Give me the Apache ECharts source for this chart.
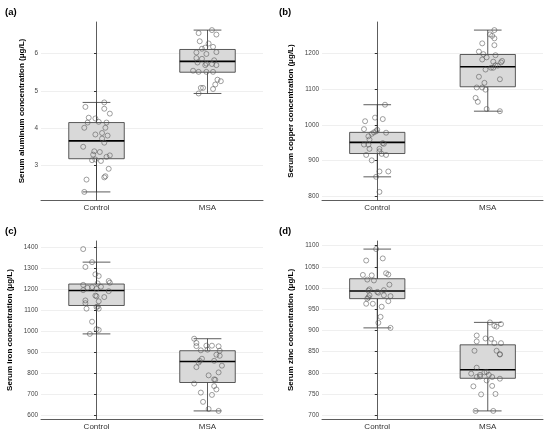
<!DOCTYPE html>
<html>
<head>
<meta charset="utf-8">
<script src="https://cdn.jsdelivr.net/npm/echarts@6/dist/echarts.min.js"></script>
<style>
  html, body { margin: 0; padding: 0; background: #fff; }
  #main { width: 550px; height: 437px; }
</style>
</head>
<body>
<div id="main"></div>
<script>
// groups on the x axis
const groups = ['Control', 'MSA'];

// box stats per group: [min, Q1, median, Q3, max]
const boxA = [[2.29, 3.18, 3.66, 4.15, 4.69], [4.93, 5.50, 5.79, 6.11, 6.63]];
const boxB = [[855, 920, 951, 979, 1056], [1038, 1106, 1162, 1196, 1264]];
const boxC = [[987, 1122, 1193, 1224, 1328], [621, 756, 856, 907, 964]];
const boxD = [[906, 975, 993, 1022, 1092], [710, 787, 807, 866, 919]];

// individual samples (value) and their horizontal jitter (in category units)
const alCtrl = [4.69, 4.57, 4.52, 4.39, 4.28, 4.26, 4.15, 4.17, 4.15, 4.01, 4.01, 3.83, 3.87, 3.80, 3.72, 3.61, 3.50, 3.38, 3.36, 3.29, 3.23, 3.27, 3.14, 3.16, 3.12, 2.91, 2.71, 2.68, 2.62, 2.29];
const alCtrlJit = [0.07, -0.10, 0.07, 0.12, -0.07, -0.01, -0.08, 0.02, 0.09, -0.11, 0.08, -0.01, 0.05, 0.10, 0.05, 0.07, -0.12, -0.02, 0.03, -0.03, 0.09, 0.12, -0.04, -0.01, 0.04, 0.11, 0.08, 0.07, -0.09, -0.11];
const alMsa = [6.63, 6.55, 6.51, 6.33, 6.27, 6.18, 6.13, 6.16, 6.04, 6.03, 5.99, 5.88, 5.86, 5.82, 5.76, 5.69, 5.73, 5.72, 5.69, 5.54, 5.51, 5.51, 5.51, 5.30, 5.26, 5.17, 5.05, 5.08, 5.08, 4.93];
const alMsaJit = [0.04, -0.08, 0.08, -0.07, 0.01, 0.05, -0.05, -0.02, 0.08, -0.10, -0.01, -0.10, -0.05, 0.06, -0.09, -0.02, -0.01, 0.04, 0.08, -0.13, -0.08, -0.01, 0.05, 0.09, 0.12, 0.07, 0.05, -0.06, -0.04, -0.08];

const cuCtrl = [1056, 1010, 1020, 1016, 988, 986, 982, 979, 975, 968, 978, 959, 945, 945, 949, 947, 933, 933, 926, 916, 919, 916, 901, 870, 870, 855, 813];
const cuCtrlJit = [0.07, -0.11, -0.02, 0.05, -0.12, 0, -0.01, -0.03, -0.05, -0.08, 0.08, -0.07, -0.12, -0.08, 0.05, 0.06, -0.07, 0.02, 0.02, -0.10, 0.04, 0.08, -0.05, 0.02, 0.10, -0.01, 0.02];
const cuMsa = [1264, 1252, 1248, 1241, 1227, 1222, 1204, 1197, 1194, 1188, 1182, 1176, 1178, 1174, 1166, 1165, 1159, 1159, 1154, 1134, 1127, 1117, 1104, 1104, 1098, 1075, 1064, 1044, 1038];
const cuMsaJit = [0.06, 0.02, 0.04, 0.06, -0.05, 0.06, -0.08, -0.04, 0.07, -0.01, -0.05, 0.05, 0.13, 0.12, 0.07, 0.09, 0.03, 0.05, -0.02, -0.08, 0.11, -0.03, -0.10, -0.05, -0.02, -0.11, -0.09, -0.01, 0.11];

const feCtrl = [1390, 1328, 1305, 1270, 1262, 1238, 1230, 1227, 1220, 1206, 1209, 1201, 1211, 1195, 1190, 1169, 1166, 1162, 1142, 1146, 1133, 1115, 1117, 1107, 1107, 1045, 1010, 1006, 987];
const feCtrlJit = [-0.12, -0.04, -0.10, -0.01, 0.02, 0.11, 0.12, 0.01, -0.12, -0.08, -0.04, 0, 0.04, -0.12, 0.11, -0.01, 0, 0.07, 0.02, -0.10, -0.10, 0, 0.01, 0.02, -0.09, -0.04, 0, 0.02, -0.06];
const feMsa = [964, 944, 929, 931, 931, 928, 909, 907, 912, 888, 883, 869, 859, 851, 859, 836, 829, 790, 804, 769, 771, 751, 739, 723, 708, 697, 664, 630, 621];
const feMsaJit = [-0.12, -0.10, -0.10, -0.01, 0.04, 0.10, -0.06, 0.11, 0, 0.08, 0.11, -0.05, -0.07, -0.08, 0.06, 0.13, -0.10, 0.01, 0.10, 0.07, 0.06, -0.12, 0.06, 0.08, -0.06, 0.04, -0.04, 0.01, 0.10];

const znCtrl = [1092, 1065, 1070, 1031, 1030, 1020, 1018, 1035, 1032, 1008, 997, 994, 995, 989, 991, 983, 983, 981, 978, 975, 969, 963, 963, 956, 932, 918, 906];
const znCtrlJit = [-0.01, -0.10, 0.05, -0.13, -0.05, -0.09, -0.03, 0.08, 0.10, 0.11, -0.07, -0.08, 0.06, 0.01, 0, -0.07, 0.06, 0.12, -0.08, -0.09, 0.10, -0.10, -0.04, 0.04, 0.03, 0.01, 0.12];
const znMsa = [919, 915, 911, 909, 888, 874, 870, 870, 881, 880, 852, 852, 844, 843, 812, 798, 795, 801, 802, 791, 790, 795, 790, 786, 782, 768, 769, 749, 750, 710, 710];
const znMsaJit = [0.02, 0.12, 0.06, 0.08, -0.10, -0.10, 0.06, 0.12, -0.02, 0.03, -0.12, 0.08, 0.11, 0.11, -0.10, -0.15, -0.07, -0.03, -0.01, -0.07, -0.10, 0.01, 0.04, 0.11, -0.01, -0.13, 0.04, -0.06, 0.07, -0.11, 0.05];

// panel titles, y-axis names
const panelTags = ['(a)', '(b)', '(c)', '(d)'];
const yNames = [
  'Serum aluminum concentration (μg/L)',
  'Serum copper concentration (μg/L)',
  'Serum iron concentration (μg/L)',
  'Serum zinc concentration (μg/L)'
];

const panels = [
  {box: boxA, ctrl: alCtrl, ctrlJit: alCtrlJit, msa: alMsa, msaJit: alMsaJit, split: 5},
  {box: boxB, ctrl: cuCtrl, ctrlJit: cuCtrlJit, msa: cuMsa, msaJit: cuMsaJit, split: 5},
  {box: boxC, ctrl: feCtrl, ctrlJit: feCtrlJit, msa: feMsa, msaJit: feMsaJit, split: 9},
  {box: boxD, ctrl: znCtrl, ctrlJit: znCtrlJit, msa: znMsa, msaJit: znMsaJit, split: 8}
];

// plot rectangles (px)
const grids = [
  {left: 41, top: 22, width: 222, height: 178},
  {left: 322, top: 22, width: 221, height: 178},
  {left: 41, top: 241, width: 222, height: 178},
  {left: 322, top: 241, width: 221, height: 178}
];
const nameGaps = [15, 27, 27, 27];

const FONT = '"Liberation Sans", Arial, sans-serif';

function renderBox(params, api) {
  let x = api.value(0);
  let lo = api.coord([x, api.value(1)]);
  let q1 = api.coord([x, api.value(2)]);
  let md = api.coord([x, api.value(3)]);
  let q3 = api.coord([x, api.value(4)]);
  let hi = api.coord([x, api.value(5)]);
  let bw = api.size([1, 0])[0] * 0.5;
  let cw = bw * 0.5;
  let cx = lo[0];
  let line = {stroke: '#333', lineWidth: 0.8};
  return {
    type: 'group',
    children: [
      {type: 'line', shape: {x1: cx, y1: lo[1], x2: cx, y2: q1[1]}, style: line},
      {type: 'line', shape: {x1: cx, y1: q3[1], x2: cx, y2: hi[1]}, style: line},
      {type: 'line', shape: {x1: cx - cw / 2, y1: lo[1], x2: cx + cw / 2, y2: lo[1]}, style: line},
      {type: 'line', shape: {x1: cx - cw / 2, y1: hi[1], x2: cx + cw / 2, y2: hi[1]}, style: line},
      {type: 'rect', shape: {x: cx - bw / 2, y: q3[1], width: bw, height: q1[1] - q3[1]},
        style: {fill: '#d9d9d9', stroke: '#333', lineWidth: 0.8}},
      {type: 'line', shape: {x1: cx - bw / 2, y1: md[1], x2: cx + bw / 2, y2: md[1]},
        style: {stroke: '#000', lineWidth: 1.6}}
    ]
  };
}

let option = {
  animation: false,
  backgroundColor: '#fff',
  title: panelTags.map((t, i) => ({
    text: t,
    left: i % 2 === 0 ? 0 : 274,
    top: i < 2 ? 2 : 221,
    textStyle: {fontFamily: FONT, fontSize: 9.5, fontWeight: 'bold', color: '#000'}
  })),
  grid: grids,
  xAxis: [],
  yAxis: [],
  series: []
};

panels.forEach((p, i) => {
  // y range: data extent expanded by 5% each side
  let all = p.ctrl.concat(p.msa);
  let lo = Math.min(...all), hi = Math.max(...all);
  let pad = (hi - lo) * 0.05;

  option.xAxis.push({
    type: 'category', gridIndex: i, data: groups,
    axisLine: {lineStyle: {color: '#333', width: 0.8}},
    axisTick: {alignWithLabel: true, length: 3, lineStyle: {color: '#333'}},
    axisLabel: {fontFamily: FONT, fontSize: 8, color: '#333', margin: 4},
    splitLine: {show: false}
  });
  option.xAxis.push({
    type: 'value', gridIndex: i, min: -0.5, max: 1.5, show: false
  });
  option.yAxis.push({
    type: 'value', gridIndex: i,
    min: lo - pad, max: hi + pad, splitNumber: p.split,
    name: yNames[i], nameLocation: 'middle', nameGap: nameGaps[i],
    nameTextStyle: {fontFamily: FONT, fontSize: 8, fontWeight: 'bold', color: '#000'},
    axisLine: {show: true, lineStyle: {color: '#333', width: 0.8}},
    axisTick: {show: true, length: 2.5, lineStyle: {color: '#333'}},
    axisLabel: {fontFamily: FONT, fontSize: 6.4, color: '#444', margin: 3,
      showMinLabel: false, showMaxLabel: false,
      formatter: v => String(Math.round(v * 100) / 100)},
    splitLine: {show: true, showMinLine: false, showMaxLine: false,
      lineStyle: {color: '#e8e8e8', width: 0.7}}
  });

  option.series.push({
    type: 'custom',
    xAxisIndex: i * 2, yAxisIndex: i,
    renderItem: renderBox,
    data: p.box.map((b, k) => [k].concat(b)),
    z: 2
  });
  let pts = p.ctrl.map((v, k) => [0 + p.ctrlJit[k], v])
    .concat(p.msa.map((v, k) => [1 + p.msaJit[k], v]));
  option.series.push({
    type: 'scatter',
    xAxisIndex: i * 2 + 1, yAxisIndex: i,
    symbol: 'circle', symbolSize: 5,
    itemStyle: {color: 'rgba(0,0,0,0)', borderColor: '#555', borderWidth: 0.7},
    data: pts,
    z: 3
  });
});

let myChart = echarts.init(document.getElementById('main'));
myChart.setOption(option);
</script>
</body>
</html>
